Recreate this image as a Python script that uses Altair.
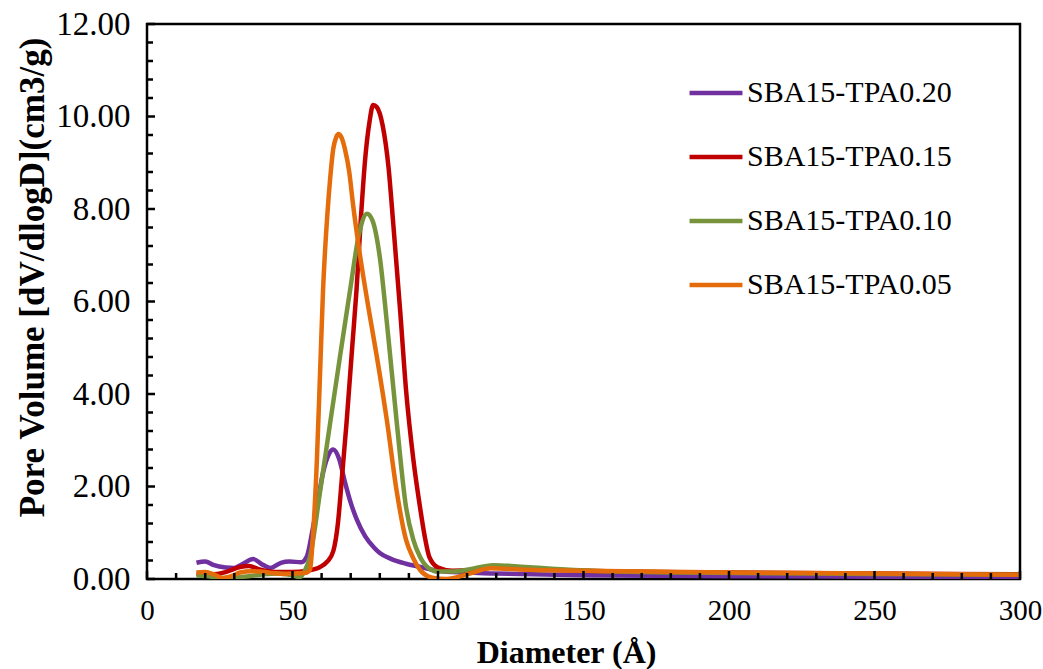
import altair as alt
import pandas as pd

series_names = ["SBA15-TPA0.20", "SBA15-TPA0.15", "SBA15-TPA0.10", "SBA15-TPA0.05"]
series_colors = ["#7030A0", "#C00000", "#77933C", "#E46C0A"]

d_020 = [17, 20, 23, 27, 30, 33, 36.5, 40, 42.5, 46, 49, 53, 55, 57, 58.5, 60.5, 62.5, 64, 66, 68, 70, 72, 75, 78, 80, 84, 89, 94, 98, 105, 120, 150, 200, 250, 300]
v_020 = [0.35, 0.38, 0.3, 0.25, 0.24, 0.33, 0.43, 0.3, 0.24, 0.35, 0.38, 0.36, 0.5, 1.1, 1.6, 2.3, 2.7, 2.8, 2.6, 2.1, 1.65, 1.3, 0.92, 0.68, 0.56, 0.43, 0.33, 0.26, 0.2, 0.15, 0.12, 0.08, 0.06, 0.05, 0.04]

d_015 = [17, 22, 27, 32, 35, 39, 44, 50, 55, 59.5, 62, 64, 65.6, 67, 68.6, 70.5, 72, 73.5, 75, 76.5, 77.7, 79, 81, 83, 84.6, 87, 89, 91.5, 93.8, 95.5, 97, 100, 105, 112, 120, 130, 150, 200, 250, 300]
v_015 = [0.12, 0.1, 0.15, 0.26, 0.28, 0.2, 0.15, 0.15, 0.18, 0.26, 0.38, 0.6, 1.2, 2.2, 3.4, 5.0, 6.25, 7.8, 9.1, 9.9, 10.25, 10.2, 9.8, 8.9, 7.7, 5.8, 4.1, 2.6, 1.56, 0.9, 0.48, 0.25, 0.18, 0.2, 0.25, 0.22, 0.18, 0.14, 0.12, 0.1]

d_010 = [17, 22, 26, 30, 35, 40, 45, 50, 52.6, 54, 56, 59.5, 63, 66.3, 69.8, 73, 75.6, 77.5, 80, 82.5, 85.8, 89, 91.5, 93.8, 96.5, 100, 105, 110, 119, 130, 149, 183, 250, 300]
v_010 = [0.08, 0.05, 0.02, 0.03, 0.06, 0.1, 0.12, 0.08, 0.04, 0.15, 0.48, 1.9, 3.4, 4.8, 6.25, 7.5, 7.9, 7.75, 6.96, 5.5, 3.4, 1.56, 0.85, 0.48, 0.25, 0.16, 0.16, 0.2, 0.3, 0.26, 0.19, 0.14, 0.11, 0.09]

d_005 = [17, 20, 23, 26, 29, 32, 36, 39, 43, 47, 51, 53.6, 55, 56, 57, 58.4, 59.5, 60.5, 62, 63, 64, 65, 65.8, 66.8, 68, 69.5, 70.8, 73.2, 76, 79, 82.5, 85.8, 89, 91.5, 93.8, 98, 103, 110, 118, 130, 150, 200, 250, 300]
v_005 = [0.14, 0.15, 0.1, 0.02, 0.06, 0.14, 0.17, 0.16, 0.13, 0.11, 0.12, 0.13, 0.14, 0.2, 0.9, 2.6, 4.5, 6.25, 7.9, 8.7, 9.3, 9.55, 9.62, 9.55, 9.3, 8.8, 8.1, 7.0, 5.9, 4.8, 3.4, 1.9, 0.85, 0.45, 0.2, 0.03, 0.0, 0.1, 0.23, 0.2, 0.18, 0.14, 0.12, 0.09]

x_major = [0, 50, 100, 150, 200, 250, 300]
x_minor = [d for d in range(10, 300, 10) if d % 50 != 0]
y_major = [0, 2, 4, 6, 8, 10, 12]
y_minor = [round(0.4 * k, 1) for k in range(1, 30) if k % 5 != 0]

rows = []
for order, (name, ds, vs) in enumerate(zip(series_names, [d_020, d_015, d_010, d_005], [v_020, v_015, v_010, v_005])):
    for d, v in zip(ds, vs):
        rows.append({"Series": name, "D": d, "V": v, "o": order})
df = pd.DataFrame(rows)

FONT = "Liberation Serif"
xscale = alt.Scale(domain=[0, 300], nice=False, zero=False)
yscale = alt.Scale(domain=[0, 12], nice=False)

lines = alt.Chart(df).mark_line(strokeWidth=4.5, interpolate="monotone", clip=True).encode(
    x=alt.X("D:Q", scale=xscale, axis=alt.Axis(title="Diameter (Å)", values=x_major, format="d",
                                               ticks=False, domain=False, grid=False, labelPadding=17,
                                               labelFlush=False, titlePadding=12, titleX=419,
                                               titleFontSize=32, labelFontSize=29)),
    y=alt.Y("V:Q", scale=yscale, axis=alt.Axis(title="Pore Volume [dV/dlogD](cm3/g)", values=y_major,
                                               format=".2f", ticks=False, domain=False, grid=False,
                                               labelPadding=17, labelFlush=False, titlePadding=5,
                                               titleY=253, titleFontSize=35, labelFontSize=33)),
    color=alt.Color("Series:N", scale=alt.Scale(domain=series_names, range=series_colors),
                    legend=alt.Legend(title=None, orient="none", legendX=540, legendY=40,
                                      symbolType="stroke", symbolSize=2800, symbolStrokeWidth=4.5,
                                      labelFontSize=30, labelFont=FONT, labelColor="black",
                                      rowPadding=20, labelOffset=2, labelLimit=400)),
    detail="o:O",
)

ytick_major = alt.Chart(pd.DataFrame({"V": y_major})).mark_rule(color="black", strokeWidth=2.5).encode(
    y=alt.Y("V:Q", scale=yscale), x=alt.value(0), x2=alt.value(8))
ytick_minor = alt.Chart(pd.DataFrame({"V": y_minor})).mark_rule(color="black", strokeWidth=2.5).encode(
    y=alt.Y("V:Q", scale=yscale), x=alt.value(0), x2=alt.value(6))
xtick_major = alt.Chart(pd.DataFrame({"D": x_major})).mark_rule(color="black", strokeWidth=2.5).encode(
    x=alt.X("D:Q", scale=xscale), y=alt.value(555), y2=alt.value(547))
xtick_minor = alt.Chart(pd.DataFrame({"D": x_minor})).mark_rule(color="black", strokeWidth=2.5).encode(
    x=alt.X("D:Q", scale=xscale), y=alt.value(555), y2=alt.value(549))

chart = alt.layer(lines, ytick_major, ytick_minor, xtick_major, xtick_minor).properties(
    width=873, height=555,
    autosize=alt.AutoSizeParams(type="none"),
    padding={"left": 147, "top": 24, "right": 23, "bottom": 90},
    background="white",
).configure_view(stroke="black", strokeWidth=2.5).configure_axis(
    labelFont=FONT, labelFontSize=28, labelColor="black",
    titleFont=FONT, titleFontSize=30, titleFontWeight="bold", titleColor="black",
)

chart.save("out.html", embed_options={"renderer": "svg", "actions": False})
